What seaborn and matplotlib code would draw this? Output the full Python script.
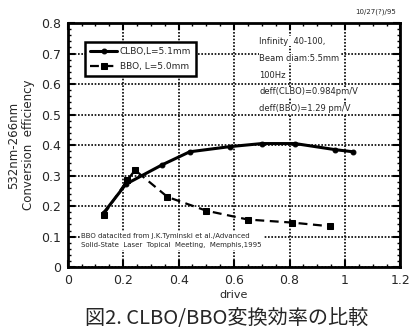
import matplotlib
matplotlib.use("Agg")
import matplotlib.pyplot as plt
import seaborn as sns
import pandas as pd
from matplotlib.ticker import MultipleLocator

clbo_x = [0.13, 0.21, 0.34, 0.44, 0.585, 0.70, 0.82, 0.965, 1.03]
clbo_y = [0.178, 0.272, 0.335, 0.378, 0.395, 0.405, 0.405, 0.385, 0.378]
bbo_x = [0.13, 0.215, 0.243, 0.36, 0.50, 0.65, 0.81, 0.945]
bbo_y = [0.172, 0.285, 0.318, 0.23, 0.185, 0.156, 0.146, 0.134]
x_ticks = [0, 0.2, 0.4, 0.6, 0.8, 1, 1.2]
x_tick_labels = ["0", "0.2", "0.4", "0.6", "0.8", "1", "1.2"]
y_ticks = [0, 0.1, 0.2, 0.3, 0.4, 0.5, 0.6, 0.7, 0.8]
y_tick_labels = ["0", "0.1", "0.2", "0.3", "0.4", "0.5", "0.6", "0.7", "0.8"]
clbo_label = "CLBO,L=5.1mm"
bbo_label = "BBO, L=5.0mm"

sns.set_theme(style="ticks")
plt.rcParams['font.family'] = ['DejaVu Sans', 'Noto Sans CJK JP']

fig = plt.figure(figsize=(4.15, 3.29), dpi=100)
ax = fig.add_axes([0.163, 0.188, 0.802, 0.742])

df_c = pd.DataFrame({"x": clbo_x, "y": clbo_y})
df_b = pd.DataFrame({"x": bbo_x, "y": bbo_y})
sns.lineplot(data=df_c, x="x", y="y", ax=ax, color="black", lw=2.2,
             marker="o", markersize=3.5, markeredgecolor="black",
             label=clbo_label, sort=False)
sns.lineplot(data=df_b, x="x", y="y", ax=ax, color="black", lw=1.6,
             linestyle=(0, (4, 2.5)), marker="s", markersize=5,
             markeredgecolor="black", label=bbo_label, sort=False)

ax.set_xlim(0, 1.2)
ax.set_ylim(0, 0.8)
ax.set_xticks(x_ticks)
ax.set_xticklabels(x_tick_labels)
ax.set_yticks(y_ticks)
ax.set_yticklabels(y_tick_labels)
ax.xaxis.set_minor_locator(MultipleLocator(0.05))
ax.yaxis.set_minor_locator(MultipleLocator(0.02))
ax.tick_params(which="both", direction="in", top=True, right=True, color="black")
ax.tick_params(which="major", length=5, width=1.5, labelsize=9, pad=5)
ax.tick_params(which="minor", length=2.5, width=1.0)
ax.grid(True, which="major", linestyle=(0, (1, 1)), color="black", lw=1.2)
for s in ax.spines.values():
    s.set_linewidth(2.0)
    s.set_color("black")

ax.set_xlabel("drive", fontsize=8, labelpad=2)
ax.set_ylabel("532nm-266nm\nConversion  efficiency", fontsize=8.5, labelpad=4)

leg = ax.legend(loc="upper left", bbox_to_anchor=(0.04, 0.94), fontsize=6.5,
                frameon=True, fancybox=False, handlelength=3.0,
                borderpad=0.5, labelspacing=0.7, handletextpad=0.3)
leg.get_frame().set_edgecolor("black")
leg.get_frame().set_linewidth(1.8)
leg.get_frame().set_alpha(1)

info = ["Infinity  40-100,", "Beam diam:5.5mm", "100Hz",
        "deff(CLBO)=0.984pm/V", "deff(BBO)=1.29 pm/V"]
for i, t in enumerate(info):
    ax.text(0.575, 0.925 - i * 0.069, t, transform=ax.transAxes, fontsize=6,
            va="center", ha="left",
            bbox=dict(facecolor="white", edgecolor="none", pad=0.3))

ax.text(0.04, 0.108, "BBO datacited from J.K.Tyminski et al./Advanced\n"
        "Solid-State  Laser  Topical  Meeting,  Memphis,1995",
        transform=ax.transAxes, fontsize=5, va="center", ha="left",
        linespacing=1.6,
        bbox=dict(facecolor="white", edgecolor="none", pad=1))

fig.text(0.955, 0.963, "10/27(?)/95", fontsize=5, ha="right", va="center")
fig.text(0.545, 0.033, "図2. CLBO/BBO変換効率の比較", fontsize=14.5,
         ha="center", va="center",
         family=['Noto Sans CJK JP', 'DejaVu Sans'])

fig.savefig("out.png", dpi=100)
